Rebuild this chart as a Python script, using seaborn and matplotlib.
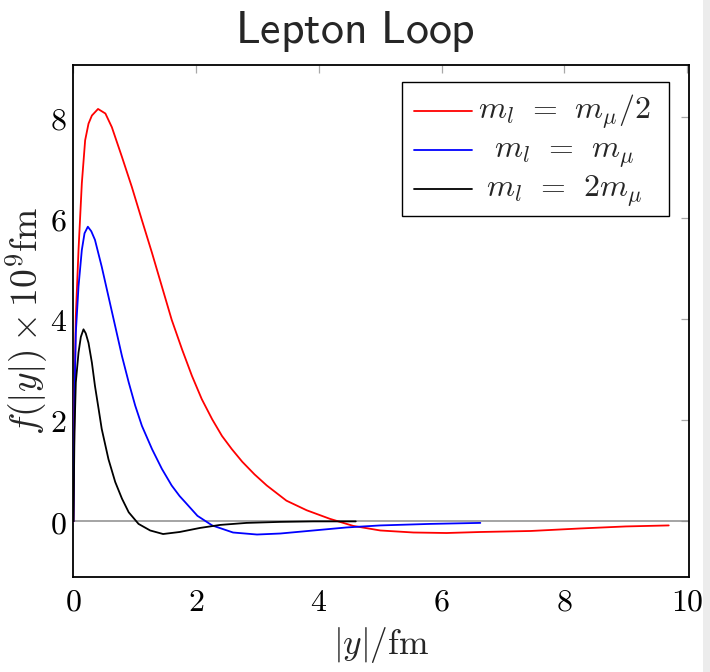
import numpy as np
import pandas as pd
import matplotlib
matplotlib.use("Agg")
import matplotlib.pyplot as plt
import seaborn as sns
from matplotlib.ticker import FuncFormatter
from matplotlib.patches import Rectangle

# Lepton-loop kernel f(|y|) for three lepton masses
x_half = [0, 0.016, 0.038, 0.082, 0.136, 0.19, 0.245, 0.30, 0.40, 0.52, 0.625, 0.79,
          0.95, 1.115, 1.28, 1.44, 1.60, 1.77, 1.93, 2.09, 2.26, 2.42, 2.58, 2.75,
          2.95, 3.15, 3.47, 3.80, 4.18, 4.56, 5.0, 5.54, 6.08, 6.63, 7.45, 8.26,
          9.0, 9.7]
f_half = [0, 2.4, 4.06, 5.37, 6.69, 7.54, 7.87, 8.03, 8.16, 8.07, 7.80, 7.21,
          6.62, 5.96, 5.31, 4.65, 3.99, 3.40, 2.88, 2.42, 2.02, 1.69, 1.43, 1.18,
          0.93, 0.71, 0.41, 0.22, 0.05, -0.09, -0.18, -0.22, -0.23, -0.21, -0.19,
          -0.14, -0.10, -0.08]

x_one = [0, 0.016, 0.038, 0.082, 0.136, 0.18, 0.234, 0.29, 0.35, 0.46, 0.57, 0.68,
         0.79, 0.90, 1.006, 1.115, 1.28, 1.44, 1.60, 1.73, 1.82, 2.02, 2.26, 2.60,
         2.99, 3.37, 3.91, 4.45, 5.0, 5.81, 6.63]
f_one = [0, 2.42, 3.73, 4.65, 5.37, 5.70, 5.83, 5.74, 5.57, 5.04, 4.45, 3.86,
         3.27, 2.75, 2.29, 1.89, 1.43, 1.04, 0.71, 0.50, 0.38, 0.11, -0.08, -0.22,
         -0.26, -0.24, -0.18, -0.12, -0.08, -0.05, -0.03]

x_two = [0, 0.016, 0.038, 0.082, 0.12, 0.163, 0.20, 0.245, 0.30, 0.35, 0.41, 0.46,
         0.57, 0.68, 0.79, 0.90, 1.06, 1.25, 1.46, 1.73, 2.06, 2.39, 2.82, 3.37,
         3.91, 4.6]
f_two = [0, 1.76, 2.75, 3.34, 3.65, 3.80, 3.72, 3.53, 3.14, 2.68, 2.22, 1.83,
         1.23, 0.78, 0.45, 0.18, -0.05, -0.18, -0.25, -0.21, -0.13, -0.07, -0.03,
         -0.01, 0.0, 0.0]

labels = [r"$m_l = m_\mu/2$", r"$m_l = m_\mu$", r"$m_l = 2m_\mu$"]
colors = ["#ff0000", "#0000ff", "#000000"]
x_ticks = [0, 2, 4, 6, 8, 10]
y_ticks = [0, 2, 4, 6, 8]

frames = []
for lab, xs, fs in zip(labels, [x_half, x_one, x_two], [f_half, f_one, f_two]):
    frames.append(pd.DataFrame({"y": xs, "f": fs, "mass": lab}))
data = pd.concat(frames, ignore_index=True)

sns.set_theme(style="white")
plt.rcParams["mathtext.fontset"] = "cm"
plt.rcParams["font.family"] = ["DejaVu Sans"]

fig = plt.figure(figsize=(7.1, 6.72), dpi=100)
ax = fig.add_axes([0.1035, 0.1414, 0.8669, 0.7619])

ax.axhline(0, color="#8c8c8c", lw=1.1, zorder=1)
sns.lineplot(data=data, x="y", y="f", hue="mass", palette=colors, hue_order=labels,
             estimator=None, sort=False, lw=1.3, ax=ax, zorder=3)

ax.set_xlim(0, 10.03)
ax.set_ylim(-1.1, 9.03)
ax.set_xticks(x_ticks)
ax.set_yticks(y_ticks)
fmt = FuncFormatter(lambda v, p: f"${v:g}$")
ax.xaxis.set_major_formatter(fmt)
ax.yaxis.set_major_formatter(fmt)
ax.tick_params(direction="in", top=True, right=True, length=6, width=0.9,
               color="#a8a8a8", labelsize=23, labelcolor="black")
ax.tick_params(axis="x", pad=7)
ax.tick_params(axis="y", pad=5)
for s in ax.spines.values():
    s.set_color("black")
    s.set_linewidth(1.3)

ax.set_xlabel(r"$|y|/\mathrm{fm}$", fontsize=25.5, labelpad=5)
ax.set_ylabel(r"$f(|y|)\times 10^9\mathrm{fm}$", fontsize=27, labelpad=0)

# legend: centred labels, handle at the height of the "=" sign;
# the trailing blank keeps some room between the text and the right frame edge
fs_leg = 23
handles, _ = ax.get_legend_handles_labels()
leg_labels = [r"$m_l\hspace{0.43}=\hspace{0.43}m_\mu/2\hspace{0.36}$ ",
              r"$\hspace{0.58}m_l\hspace{0.43}=\hspace{0.43}m_\mu\hspace{0.36}$ ",
              r"$\hspace{0.29}m_l\hspace{0.43}=\hspace{0.43}2m_\mu\hspace{0.36}$ "]
leg = ax.legend(handles, leg_labels, loc="upper right", bbox_to_anchor=(0.967, 0.967),
                borderaxespad=0, fontsize=fs_leg, frameon=True, fancybox=False,
                framealpha=1, edgecolor="black", handlelength=1.99, handletextpad=0.19,
                handleheight=1.54, labelspacing=-0.12, borderpad=0.2)
leg.get_frame().set_linewidth(1.0)
lead = 5.6 * 72 / 100  # blank lead-in before each legend line, in points
for h in leg.legend_handles:
    x0, x1 = h.get_xdata()[0], h.get_xdata()[-1]
    h.set_xdata([x0 + lead, x1])
    h.set_ydata([0.25 * fs_leg] * 2)

fig.text(0.5, 1 - 43 / 672, r"$\mathsf{Lepton\ Loop}$", ha="center", va="baseline",
         fontsize=33)

# faint grey band along the right edge of the page
fig.patches.append(Rectangle((0.99, 0), 0.01, 1, transform=fig.transFigure,
                             facecolor="#ececec", edgecolor="none", zorder=-1))

fig.savefig("out.png", dpi=100)
